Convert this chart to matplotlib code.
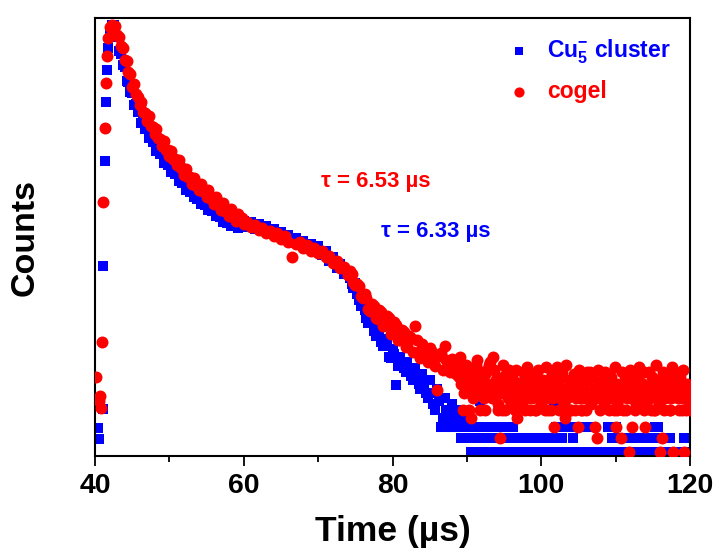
import numpy as np
import matplotlib
matplotlib.use("Agg")
import matplotlib.pyplot as plt

# ---------------- data (counts, arbitrary units, no y ticks) ----------------
# rising edge (irregular times)
blue_rise_t = [40.44, 40.58, 41.03, 41.12, 41.34, 41.48, 41.65, 41.79, 42.0, 42.25]
blue_rise_c = [28, 17, 47, 190, 295, 354, 386, 408, 422, 431]
red_rise_t = [40.15, 40.55, 40.67, 40.77, 40.98, 41.12, 41.34, 41.48, 41.65, 41.79, 42.0, 42.25]
red_rise_c = [79, 55, 60, 48, 114, 254, 328, 373, 400, 418, 429, 431]

# decay, sampled every 0.5 us from 42.5 to 88.0
t_decay = np.arange(42.5, 88.01, 0.5)
blue_decay = [431, 419, 402, 389, 374, 363, 352, 345, 334, 329,
              320, 316, 308, 303, 296, 294, 287, 285, 278, 276,
              269, 268, 262, 261, 255, 255, 249, 249, 243, 243,
              237, 238, 233, 237, 231, 235, 229, 234, 227, 232,
              225, 230, 222, 227, 219, 224, 216, 221, 213, 218,
              211, 215, 207, 212, 204, 210, 201, 205, 195, 199,
              188, 192, 182, 185, 172, 173, 156, 153, 138, 140,
              125, 128, 114, 117, 99, 107, 71, 99, 88, 94,
              80, 88, 72, 82, 63, 76, 52, 67, 29, 58,
              38, 52]
red_decay = [424, 421, 410, 396, 384, 369, 362, 351, 344, 335,
             330, 322, 318, 310, 306, 300, 297, 291, 288, 281,
             279, 272, 271, 266, 265, 259, 258, 252, 252, 246,
             245, 240, 240, 235, 237, 232, 234, 229, 231, 226,
             228, 223, 225, 220, 223, 217, 220, 214, 199, 212,
             214, 208, 211, 205, 208, 203, 205, 199, 200, 193,
             195, 188, 189, 181, 182, 171, 170, 158, 158, 145,
             150, 137, 144, 131, 138, 124, 131, 116, 124, 110,
             118, 130, 104, 112, 100, 108, 96, 66, 103, 110,
             90, 97]

# extra readings in the steep early decay, 42.75 to 59.75 us
t_decay_mid = np.arange(42.75, 59.76, 0.5)
blue_decay_mid = [423, 405, 391, 375, 364, 351, 344, 333, 327, 318,
                  314, 305, 302, 293, 291, 284, 282, 275, 273, 266,
                  264, 259, 257, 252, 251, 246, 245, 240, 239, 234,
                  233, 230, 230, 228, 229]
red_decay_mid = [430, 419, 408, 395, 382, 372, 359, 354, 343, 340,
                 329, 327, 317, 315, 306, 305, 297, 296, 288, 287,
                 279, 278, 272, 272, 266, 266, 259, 259, 253, 253,
                 246, 247, 242, 242, 238]

# extra readings in the late decay, 74.25 to 87.75 us
t_late_mid = np.arange(74.25, 87.76, 0.5)
blue_late_mid = [178, 168, 162, 150, 146, 133, 134, 120, 122, 110,
                 112, 98, 102, 90, 94, 84, 86, 76, 79, 67,
                 72, 58, 63, 46, 55, 38, 46, 29]
red_late_mid = [185, 174, 172, 160, 162, 147, 152, 138, 146, 130,
                140, 122, 134, 116, 126, 109, 120, 104, 116, 98,
                108, 94, 104, 90, 100, 86, 96, 84]

# tail, sampled every 0.25 us from 88.25 to 120.0
t_tail = np.arange(88.25, 120.01, 0.25)
blue_tail = [46, 38, 29, 46, 18, 38, 29, 18,
             29, 4, 29, 18, 29, 4, 55, 29,
             18, 4, 29, 18, 4, 29, 18, 4,
             29, 18, 29, 4, 18, 29, 4, 18,
             29, 4, 18, 4, 18, 4, 18, 4,
             18, 4, 4, 18, 4, 18, 4, 4,
             18, 4, 4, 18, 4, 18, 52, 29,
             4, 29, 18, 29, 4, 29, 4, 29,
             18, 29, 4, 4, 29, 4, 29, 4,
             29, 4, 4, 4, 4, 4, 4, 4,
             4, 4, 4, 29, 4, 18, 4, 29,
             4, 18, 4, 18, 4, 18, 4, 4,
             18, 4, 18, 4, 18, 4, 18, 4,
             4, 18, 4, 18, 29, 4, 29, 4,
             18, 4, 18, 4, 18, 4, 4, 4,
             4, 4, 4, 4, 18, 4, 18, 4]
red_tail = [91, 82, 96, 86, 72, 46, 86, 79,
            46, 38, 82, 72, 91, 67, 46, 76,
            58, 46, 86, 91, 72, 99, 63, 79,
            46, 18, 46, 67, 82, 58, 72, 63,
            76, 46, 38, 58, 67, 84, 46, 63,
            72, 46, 58, 79, 46, 63, 67, 52,
            76, 46, 58, 72, 46, 84, 29, 63,
            72, 58, 84, 67, 38, 58, 76, 46,
            63, 46, 72, 29, 58, 46, 67, 46,
            76, 84, 58, 63, 29, 18, 72, 58,
            67, 52, 79, 63, 58, 72, 46, 29,
            46, 67, 18, 46, 76, 58, 4, 63,
            29, 72, 52, 79, 58, 67, 46, 29,
            63, 84, 46, 72, 46, 58, 76, 4,
            18, 46, 63, 79, 46, 58, 4, 84,
            67, 46, 72, 58, 4, 46, 63, 46]

# extra red readings in the tail, 88.375 to 119.875 us
t_tail_mid = np.arange(88.375, 119.876, 0.25)
red_tail_mid = [88, 94, 79, 99, 84, 63, 91, 72,
                67, 86, 58, 79, 96, 72, 84, 63,
                82, 72, 67, 94, 58, 86, 76, 52,
                72, 63, 91, 46, 76, 86, 52, 79,
                58, 86, 67, 72, 52, 76, 63, 89,
                58, 82, 67, 46, 76, 86, 58, 72,
                63, 89, 46, 67, 79, 58, 72, 89,
                46, 79, 63, 52, 91, 67, 46, 72,
                82, 58, 67, 86, 46, 76, 58, 84,
                63, 52, 79, 67, 58, 86, 46, 76,
                58, 84, 67, 46, 79, 63, 89, 52,
                72, 58, 84, 63, 46, 72, 86, 58,
                76, 46, 63, 89, 58, 72, 84, 52,
                67, 58, 79, 46, 91, 63, 52, 72,
                84, 58, 67, 76, 46, 89, 63, 72,
                58, 79, 46, 86, 67, 72, 52]

series_labels = ["Cu$_{5}^{-}$ cluster", "cogel"]
tau_texts = ["\u03c4 = 6.53 \u00b5s", "\u03c4 = 6.33 \u00b5s"]
x_ticks = [40, 60, 80, 100, 120]
x_minor = [50, 70, 90, 110]

# ---------------- style ----------------
plt.rcParams["font.family"] = ["Liberation Sans", "DejaVu Sans"]
plt.rcParams["font.weight"] = "bold"
plt.rcParams["mathtext.fontset"] = "custom"
plt.rcParams["mathtext.rm"] = "Liberation Sans:bold"
plt.rcParams["mathtext.it"] = "Liberation Sans:bold"
plt.rcParams["mathtext.bf"] = "Liberation Sans:bold"
plt.rcParams["mathtext.default"] = "rm"

BLUE = "#0000FF"
RED = "#FF0000"

fig = plt.figure(figsize=(7.16, 5.51), dpi=100)
ax = fig.add_axes([95 / 716, 1 - 456 / 551, 595 / 716, 438 / 551])

blue_t = np.concatenate([blue_rise_t, t_decay, t_decay_mid, t_late_mid, t_tail])
blue_c = np.concatenate([blue_rise_c, blue_decay, blue_decay_mid, blue_late_mid, blue_tail])
red_t = np.concatenate([red_rise_t, t_decay, t_decay_mid, t_late_mid, t_tail, t_tail_mid])
red_c = np.concatenate([red_rise_c, red_decay, red_decay_mid, red_late_mid, red_tail,
                        red_tail_mid])

ax.scatter(blue_t, blue_c, marker="s", s=48, color=BLUE, linewidths=0,
           label=series_labels[0], zorder=2)
ax.scatter(red_t, red_c, marker="o", s=74, color=RED, linewidths=0,
           label=series_labels[1], zorder=3)

ax.set_xlim(40, 120)
ax.set_ylim(0, 438)
ax.set_xticks(x_ticks)
ax.set_xticks(x_minor, minor=True)
ax.set_yticks([])
ax.tick_params(axis="x", which="major", direction="out", length=7.5, width=1.3,
               pad=5, labelsize=20.4)
ax.tick_params(axis="x", which="minor", direction="out", length=4.5, width=1.3)
for lab in ax.get_xticklabels():
    lab.set_fontweight("bold")
for sp in ax.spines.values():
    sp.set_linewidth(1.5)
    sp.set_color("black")

ax.set_xlabel("Time (\u00b5s)", fontsize=25.5, fontweight="bold")
ax.xaxis.set_label_coords(0.5, (456 - 532) / 438)
ax.xaxis.label.set_verticalalignment("center")
ax.set_ylabel("Counts", fontsize=24.5, fontweight="bold")
ax.yaxis.set_label_coords((25 - 95) / 595, 0.5)
ax.yaxis.label.set_verticalalignment("center")

ax.text(70.35, 274, tau_texts[0], color=RED, fontsize=16, fontweight="bold",
        ha="left", va="center")
ax.text(78.4, 224, tau_texts[1], color=BLUE, fontsize=16, fontweight="bold",
        ha="left", va="center")

leg = ax.legend(loc="upper left", bbox_to_anchor=((508 - 95) / 595, (456 - 37) / 438),
                frameon=False, fontsize=16.5, handlelength=1.0, handletextpad=0.7,
                borderpad=0, borderaxespad=0, labelspacing=0.65, scatterpoints=1,
                markerscale=0.85)
for txt, col in zip(leg.get_texts(), [BLUE, RED]):
    txt.set_color(col)

fig.savefig("out.png", dpi=100)
